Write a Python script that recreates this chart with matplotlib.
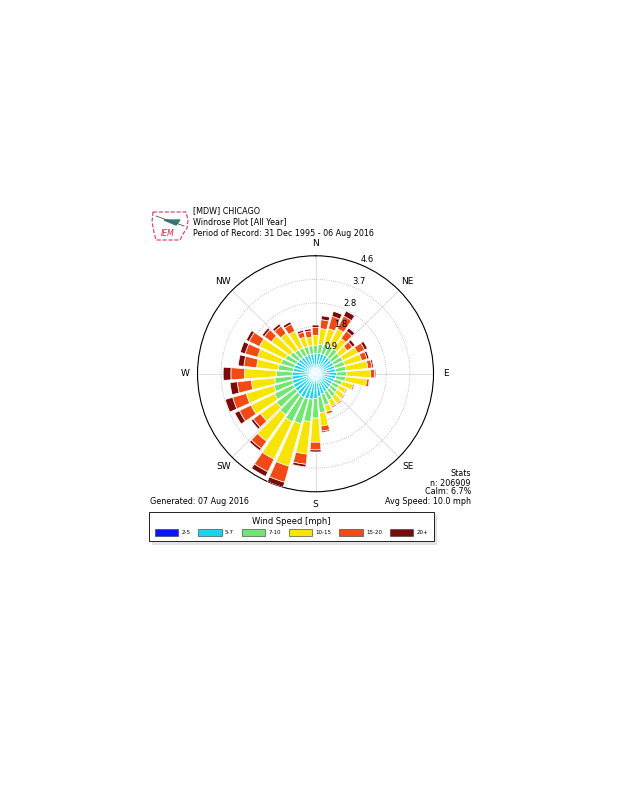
import numpy as np
import matplotlib.pyplot as plt
from matplotlib.patches import Patch, Polygon

# wind directions (degrees) and percent frequency per speed bin
directions = [0, 10, 20, 30, 40, 50, 60, 70, 80, 90, 100, 110, 120, 130, 140, 150, 160, 170,
              180, 190, 200, 210, 220, 230, 240, 250, 260, 270, 280, 290, 300, 310, 320, 330, 340, 350]

spd_2_5 = [0.14, 0.14, 0.14, 0.14, 0.13, 0.13, 0.13, 0.13, 0.13, 0.14, 0.14, 0.13, 0.13, 0.13, 0.14, 0.14, 0.15, 0.17,
           0.19, 0.20, 0.20, 0.19, 0.18, 0.17, 0.17, 0.16, 0.16, 0.16, 0.15, 0.15, 0.15, 0.14, 0.14, 0.14, 0.14, 0.14]
spd_5_7 = [0.64, 0.66, 0.66, 0.66, 0.65, 0.63, 0.65, 0.65, 0.67, 0.68, 0.66, 0.63, 0.60, 0.61, 0.62, 0.64, 0.68, 0.73,
           0.77, 0.80, 0.83, 0.84, 0.82, 0.81, 0.79, 0.78, 0.77, 0.74, 0.73, 0.71, 0.69, 0.68, 0.66, 0.64, 0.64, 0.64]
spd_7_10 = [0.32, 0.35, 0.40, 0.42, 0.42, 0.39, 0.40, 0.40, 0.40, 0.40, 0.38, 0.32, 0.29, 0.31, 0.34, 0.37, 0.45, 0.63,
            0.77, 0.88, 1.00, 1.05, 0.98, 0.90, 0.82, 0.74, 0.67, 0.63, 0.58, 0.54, 0.47, 0.40, 0.35, 0.34, 0.32, 0.32]
spd_10_15 = [0.40, 0.62, 0.63, 0.73, 0.50, 0.38, 0.65, 0.69, 0.85, 0.93, 0.83, 0.44, 0.31, 0.33, 0.32, 0.27, 0.26, 0.52,
             0.94, 1.27, 1.72, 1.62, 1.27, 0.77, 1.02, 1.13, 0.92, 1.24, 0.85, 0.95, 1.12, 0.90, 0.80, 0.73, 0.39, 0.33]
spd_15_20 = [0.30, 0.35, 0.50, 0.55, 0.35, 0.25, 0.30, 0.22, 0.16, 0.15, 0.10, 0.06, 0.05, 0.05, 0.06, 0.06, 0.10, 0.20,
             0.30, 0.40, 0.65, 0.55, 0.35, 0.35, 0.50, 0.55, 0.55, 0.53, 0.50, 0.50, 0.45, 0.35, 0.35, 0.30, 0.20, 0.25]
spd_20p = [0.10, 0.15, 0.20, 0.22, 0.15, 0.12, 0.12, 0.08, 0.06, 0.05, 0.03, 0.02, 0.02, 0.02, 0.02, 0.02, 0.03, 0.05,
           0.08, 0.10, 0.20, 0.20, 0.10, 0.10, 0.20, 0.30, 0.28, 0.30, 0.22, 0.20, 0.12, 0.10, 0.10, 0.10, 0.08, 0.08]

bin_labels = ['2-5', '5-7', '7-10', '10-15', '15-20', '20+']
bin_colors = ['#0a14ff', '#1cd2f2', '#72e672', '#f7e400', '#f24a14', '#7c0a0a']

r_ticks = [0.92, 1.84, 2.76, 3.68, 4.6]
r_labels = ['0.9', '1.8', '2.8', '3.7', '4.6']

fig = plt.figure(figsize=(6.18, 8), dpi=100)

# polar windrose axes
ax = fig.add_axes([0.3196, 0.3853, 0.3819, 0.295], projection='polar')
ax.set_theta_zero_location('N')
ax.set_theta_direction(-1)
ax.set_axisbelow(True)

theta = np.radians(directions)
bottom = np.zeros(len(directions))
for vals, col in zip([spd_2_5, spd_5_7, spd_7_10, spd_10_15, spd_15_20, spd_20p], bin_colors):
    ax.bar(theta, vals, width=np.radians(10) * 0.82, bottom=bottom, color=col,
           edgecolor='white', linewidth=0.5, zorder=3)
    bottom += np.array(vals)

ax.set_ylim(0, 4.6)
ax.set_rgrids(r_ticks, labels=[''] * len(r_ticks), angle=22.5)
# radius labels drawn on top of the bars
for r, lbl in zip(r_ticks, r_labels):
    ax.annotate(lbl, xy=(np.radians(22.5), r), xytext=(5, 3.8), textcoords='offset points',
                ha='center', va='center', fontsize=6, zorder=6)
ax.set_thetagrids([0, 45, 90, 135, 180, 225, 270, 315],
                  labels=['N', 'NE', 'E', 'SE', 'S', 'SW', 'W', 'NW'], fontsize=6.5)
ax.tick_params(axis='x', pad=-1.5)
ax.yaxis.grid(True, linestyle=':', color='#b0b0b0', lw=0.6)
ax.xaxis.grid(True, linestyle='-', color='#dddddd', lw=0.7)
ax.spines['polar'].set_linewidth(0.8)

# header
fs = 5.8
fig.text(193 / 618, 1 - 211 / 800, '[MDW] CHICAGO', fontsize=fs, va='center')
fig.text(193 / 618, 1 - 222 / 800, 'Windrose Plot [All Year]', fontsize=fs, va='center')
fig.text(193 / 618, 1 - 233 / 800, 'Period of Record: 31 Dec 1995 - 06 Aug 2016', fontsize=fs, va='center')

# IEM logo (rough sketch)
lax = fig.add_axes([150 / 618, 1 - 242 / 800, 40 / 618, 34 / 800])
lax.set_xlim(0, 40)
lax.set_ylim(0, 34)
lax.axis('off')
lax.add_patch(Polygon([[3, 30], [36, 30], [38, 22], [37, 14], [33, 8], [30, 2], [6, 2], [4, 10], [2, 20]],
                      closed=True, fill=False, edgecolor='#e0306a', lw=0.8, ls='--'))
lax.plot([6, 34], [26, 16], color='#555555', lw=0.6)
lax.fill([14, 30, 26], [22, 22, 17], color='#2f7f7a')
lax.text(18, 8, 'IEM', color='#d8204f', fontsize=5.5, style='italic', ha='center', va='center')

# stats block
fig.text(471 / 618, 1 - 473 / 800, 'Stats', fontsize=fs, ha='right', va='center')
fig.text(471 / 618, 1 - 483 / 800, 'n: 206909', fontsize=fs, ha='right', va='center')
fig.text(471 / 618, 1 - 492 / 800, 'Calm: 6.7%', fontsize=fs, ha='right', va='center')
fig.text(471 / 618, 1 - 502 / 800, 'Avg Speed: 10.0 mph', fontsize=fs, ha='right', va='center')
fig.text(150 / 618, 1 - 501 / 800, 'Generated: 07 Aug 2016', fontsize=fs, ha='left', va='center')

# legend
handles = [Patch(facecolor=c, edgecolor='#333333', lw=0.4, label=l) for c, l in zip(bin_colors, bin_labels)]
leg = fig.legend(handles=handles, loc='center', bbox_to_anchor=(291.5 / 618, 1 - 526.5 / 800), ncol=6,
                 title='Wind Speed [mph]', fontsize=4, title_fontsize=6, frameon=True, fancybox=False,
                 shadow={'color': '#c8c8c8'}, handlelength=4.2, handleheight=1.4, columnspacing=1.4,
                 handletextpad=0.6, borderpad=1.0, borderaxespad=0)
leg.get_frame().set_edgecolor('black')
leg.get_frame().set_linewidth(0.6)

fig.savefig('out.png', dpi=100, facecolor='white')
